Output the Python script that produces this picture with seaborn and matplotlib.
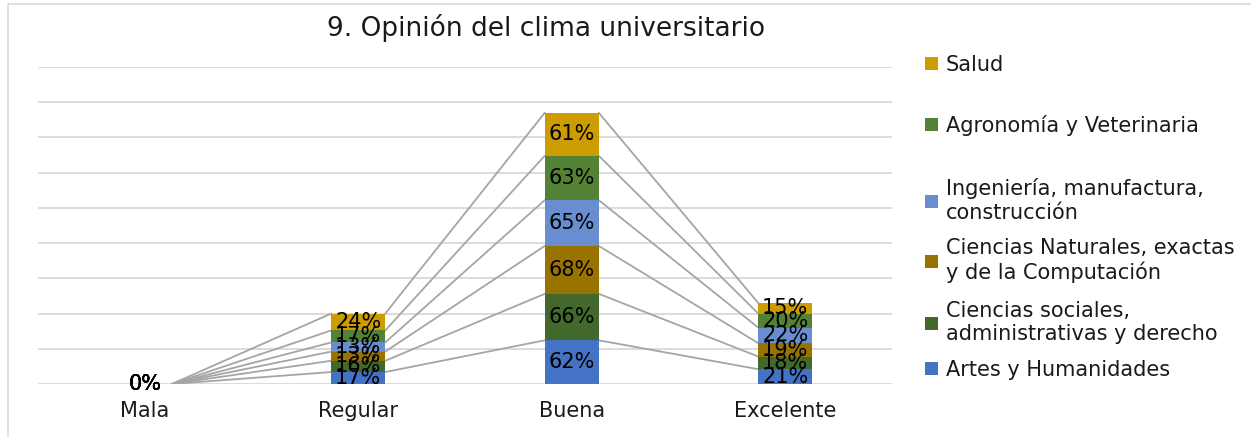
import matplotlib
matplotlib.use("Agg")
import matplotlib.pyplot as plt
import seaborn as sns
import numpy as np
from matplotlib.patches import Rectangle, Patch

categories = ["Mala", "Regular", "Buena", "Excelente"]
series = ["Artes y Humanidades",
          "Ciencias sociales,\nadministrativas y derecho",
          "Ciencias Naturales, exactas\ny de la Computación",
          "Ingeniería, manufactura,\nconstrucción",
          "Agronomía y Veterinaria",
          "Salud"]
artes = [0, 17, 62, 21]
sociales = [0, 16, 66, 18]
naturales = [0, 13, 68, 19]
ingenieria = [0, 13, 65, 22]
agronomia = [0, 17, 63, 20]
salud = [0, 24, 61, 15]
colors = ["#4472C4", "#43682B", "#997300", "#698ED0", "#548235", "#CC9C00"]
title = "9. Opinión del clima universitario"

sns.set_theme(style="white")
plt.rcParams['font.family'] = ['DejaVu Sans']

fig = plt.figure(figsize=(12.51, 4.37), dpi=100)
ax = fig.add_axes([38/1251, 53/437, 854/1251, 317/437])

vals = np.array([artes, sociales, naturales, ingenieria, agronomia, salud])
cum = vals.cumsum(axis=0)
W = 0.253
for k in range(len(series) - 1, -1, -1):
    sns.barplot(x=categories, y=cum[k], color=colors[k], width=W, ax=ax,
                order=categories, saturation=1, linewidth=0, errorbar=None, zorder=3)

# series lines
for k in range(len(series)):
    for i in range(len(categories) - 1):
        ax.plot([i + W/2, i + 1 - W/2], [cum[k][i], cum[k][i+1]],
                color="#A5A5A5", lw=1.3, zorder=2)

# data labels
for k in range(len(series)):
    for i in range(len(categories)):
        ax.text(i, cum[k][i] - vals[k][i]/2, f"{vals[k][i]}%", ha="center",
                va="center", fontsize=15, color="black", zorder=5)

ax.set_ylim(0, 450)
ax.set_yticks(np.arange(0, 451, 50))
ax.set_yticklabels([])
ax.tick_params(axis='y', length=0)
ax.grid(axis='y', color='#D9D9D9', lw=1.3)
ax.grid(axis='x', visible=False)
ax.set_axisbelow(True)
for s in ax.spines.values():
    s.set_visible(False)
ax.set_xlim(-0.5, 3.5)
ax.tick_params(axis='x', length=0, pad=12, labelsize=15, colors='#1a1a1a')
ax.set_xlabel('')
ax.set_ylabel('')

fig.text(546/1251, 1 - 28/437, title, ha="center", va="center", fontsize=19, color="#1a1a1a")

leg_y = [370, 322.5, 260.5, 200.5, 125, 65]
for k in range(len(series)):
    h = Patch(facecolor=colors[k], edgecolor='none')
    fig.legend(handles=[h], labels=[series[k]], loc='center left',
               bbox_to_anchor=(925/1251, 1 - leg_y[k]/437), frameon=False,
               fontsize=15, handlelength=0.6, handleheight=0.6,
               handletextpad=0.4, borderpad=0, borderaxespad=0,
               labelcolor='#1a1a1a')

fig.add_artist(Rectangle((8/1251, -0.05), 1.2, 1.05 - 4/437, transform=fig.transFigure,
                         facecolor='none', edgecolor='#D9D9D9', lw=1.2))

fig.savefig("out.png", dpi=100)
